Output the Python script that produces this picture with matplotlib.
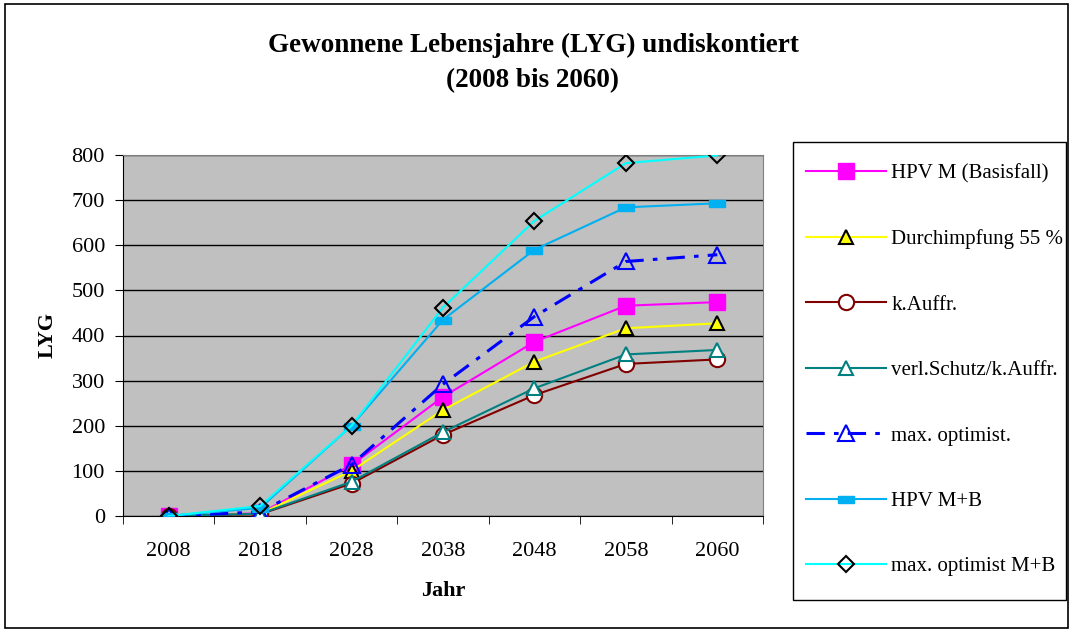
import numpy as np
import matplotlib.pyplot as plt
from matplotlib.patches import Rectangle

plt.rcParams['font.family'] = ['Liberation Serif', 'DejaVu Serif']

# data
jahre = ['2008', '2018', '2028', '2038', '2048', '2058', '2060']
hpv_m = [0, 6, 113, 264, 386, 466, 474]
durchimpfung = [0, 5, 100, 235, 342, 416, 427]
k_auffr = [0, 4, 72, 180, 268, 337, 347]
verl_schutz = [0, 5, 76, 186, 283, 358, 368]
max_opt = [0, 9, 114, 292, 442, 564, 579]
hpv_mb = [0, 18, 200, 435, 590, 684, 693]
max_opt_mb = [0, 22, 200, 462, 654, 782, 799]

x = np.arange(len(jahre))

# flat bar marker like the one excel uses for "HPV M+B"
flat = [(-1, -0.42), (1, -0.42), (1, 0.42), (-1, 0.42), (-1, -0.42)]

W, H = 1073, 632
fig = plt.figure(figsize=(W / 100, H / 100), dpi=100)
# outer chart frame
fig.patches.append(Rectangle((0.005, 0.006), 0.99, 0.988, transform=fig.transFigure,
                             fill=False, edgecolor='black', lw=1.2))
# legend frame
fig.patches.append(Rectangle((793 / W, 1 - 600 / H), 273 / W, 458 / H,
                             transform=fig.transFigure, fill=False,
                             edgecolor='black', lw=1.0))

ax = fig.add_axes([123 / W, 1 - 516 / H, 640 / W, 361 / H])
ax.set_facecolor('#C0C0C0')

ax.plot(x, hpv_m, color='#FF00FF', lw=1.5, marker='s', ms=11,
        mfc='#FF00FF', mec='#FF00FF', label='HPV M (Basisfall)', zorder=3)
ax.plot(x, durchimpfung, color='#FFFF00', lw=1.5, marker='^', ms=10,
        mfc='#FFFF00', mec='black', mew=1.5, label='Durchimpfung 55 %', zorder=3)
ax.plot(x, k_auffr, color='#800000', lw=1.5, marker='o', ms=11,
        mfc='white', mec='#800000', mew=1.5, label='k.Auffr.', zorder=3)
ax.plot(x, verl_schutz, color='#008080', lw=1.5, marker='^', ms=10,
        mfc='white', mec='#008080', mew=1.5, label='verl.Schutz/k.Auffr.', zorder=3)
ax.plot(x, max_opt, color='#0000FF', lw=2.2, ls=(0, (6, 3, 1.5, 3)), marker='^', ms=12,
        mfc='none', mec='#0000FF', mew=1.5, label='max. optimist.', zorder=3)
ax.plot(x, hpv_mb, color='#00B0F0', lw=1.5, marker=flat, ms=12,
        mfc='#00B0F0', mec='#00B0F0', label='HPV M+B', zorder=3)
ax.plot(x, max_opt_mb, color='#00FFFF', lw=1.5, marker='D', ms=8,
        mfc='none', mec='black', mew=1.5, label='max. optimist M+B', zorder=3)

ax.set_xlim(-0.5, len(jahre) - 0.5)
ax.set_ylim(0, 800)
ax.set_yticks(np.arange(0, 801, 100))
ax.grid(axis='y', color='black', lw=1)
ax.set_axisbelow(True)

ax.set_xticks(x)
ax.set_xticklabels(jahre)
ax.set_xticks(np.arange(-0.5, len(jahre), 1), minor=True)
ax.tick_params(axis='x', which='major', length=0, pad=19, labelsize=16)
ax.tick_params(axis='x', which='minor', length=6, direction='out')
ax.tick_params(axis='y', length=6, labelsize=16, pad=7)

for s in ['top', 'right']:
    ax.spines[s].set_color('#808080')
for s in ['left', 'bottom']:
    ax.spines[s].set_color('black')

ax.set_xlabel('Jahr', fontsize=16, fontweight='bold', labelpad=14)
ax.set_ylabel('LYG', fontsize=16, fontweight='bold', labelpad=10)

fig.text(533 / W, 1 - 63 / H, 'Gewonnene Lebensjahre (LYG) undiskontiert\n(2008 bis 2060)',
         ha='center', va='center', fontsize=19.5, fontweight='bold', linespacing=1.55)

leg = fig.legend(loc='upper left', bbox_to_anchor=(806 / W, 1 - 164 / H),
                 fontsize=15, frameon=False,
                 handlelength=3.85, labelspacing=2.2, borderpad=0,
                 handletextpad=0.25, borderaxespad=0)

fig.savefig('out.png', dpi=100)
